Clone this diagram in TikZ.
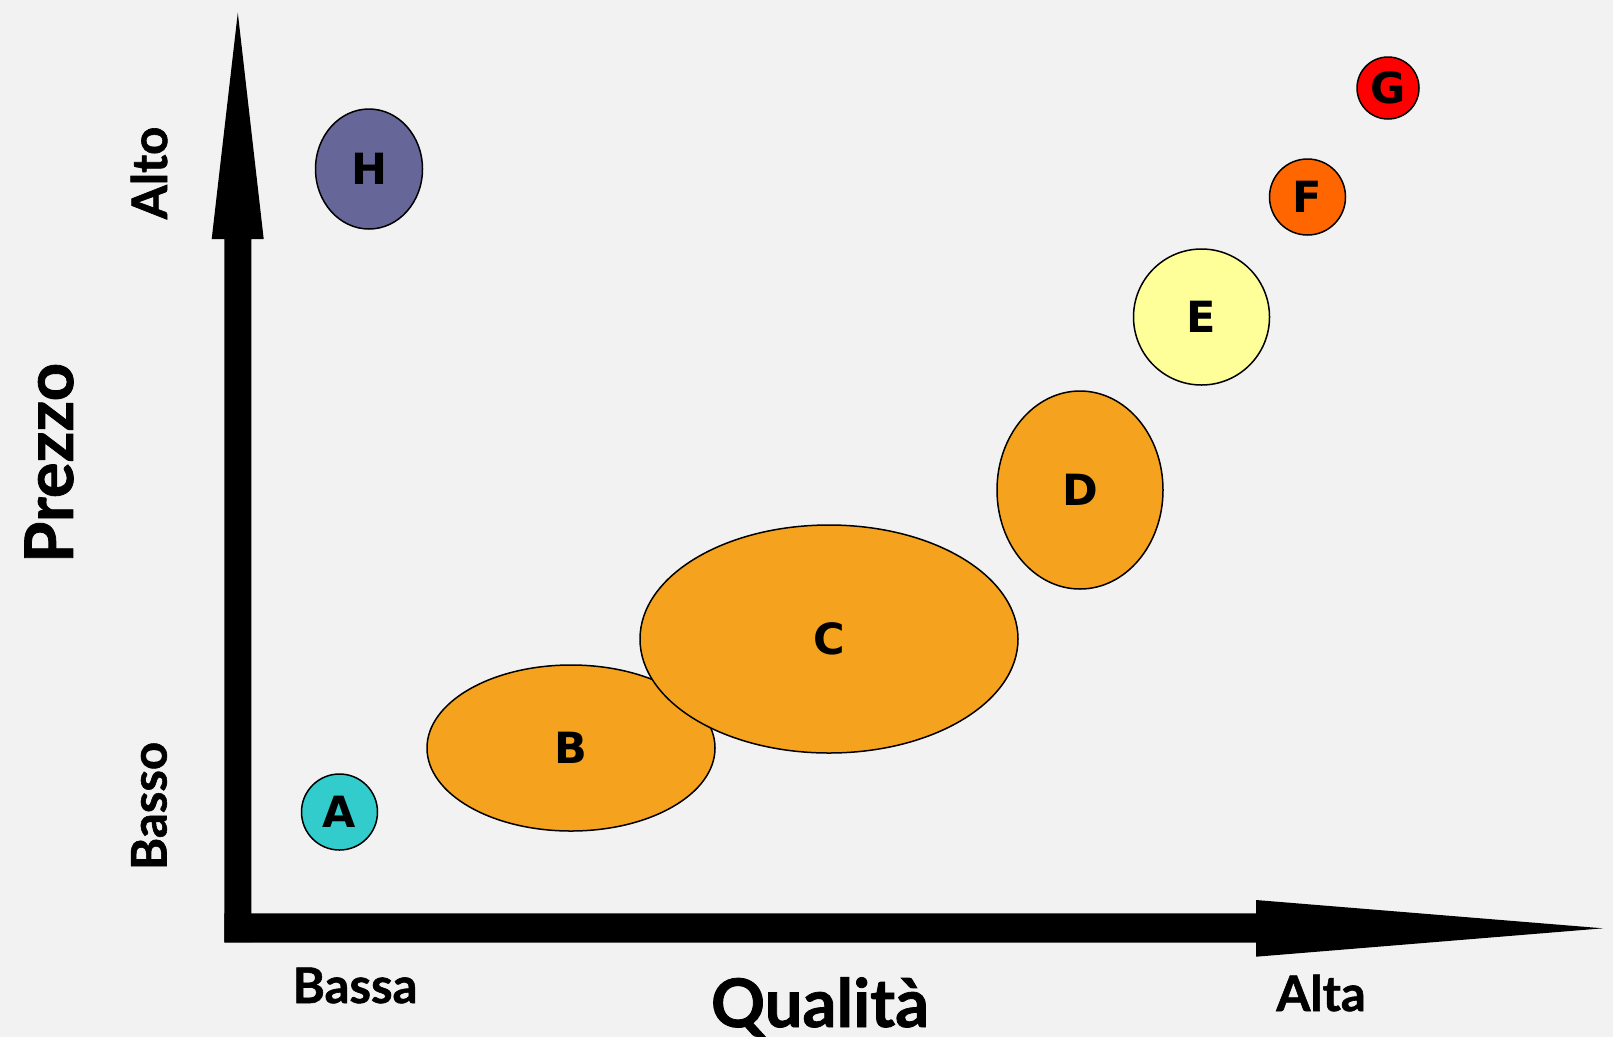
\documentclass[tikz,border=0pt]{standalone}
\usepackage{fontspec}
\setmainfont{Lato}[BoldFeatures={FakeBold=1.2}]
\newfontfamily\letterfont{DejaVu Sans}
\usetikzlibrary{shapes.geometric}

\definecolor{bgcol}{HTML}{F2F2F2}
\definecolor{segA}{HTML}{33CCCC}
\definecolor{segmid}{HTML}{F5A31F}
\definecolor{segE}{HTML}{FFFF99}
\definecolor{segF}{HTML}{FF6600}
\definecolor{segG}{HTML}{FF0000}
\definecolor{segH}{HTML}{666699}

\begin{document}
\begin{tikzpicture}[x=1pt,y=-1pt,
  seg/.style={ellipse,draw=black,line width=1.5pt,inner sep=0pt,
    font=\letterfont\bfseries\fontsize{43}{43}\selectfont},
  biglabel/.style={font=\bfseries\fontsize{67}{67}\selectfont},
  endlabel/.style={font=\bfseries\fontsize{49}{49}\selectfont}]
% Background
\fill[bgcol] (0,0) rectangle (1613,1037);
\useasboundingbox (0,0) rectangle (1613,1037);

% Axes
\coordinate (ytip) at (237.8,12.7);
\coordinate (xtip) at (1603,928.3);
\fill[black] (224.3,942) -- (224.3,239) -- (211.7,239) -- (ytip)
  -- (263.7,239) -- (251.3,239) -- (251.3,942) -- cycle;
\fill[black] (224.3,913.3) -- (1256,913.3) -- (1256,900) -- (xtip)
  -- (1256,956.7) -- (1256,942.7) -- (224.3,942.7) -- cycle;

% Axis labels
\node[biglabel,rotate=90] (prezzo) at (49,463) {Prezzo};
\node[endlabel,rotate=90] (alto) at (149,173) {Alto};
\node[endlabel,rotate=90] (basso) at (149,806) {Basso};
\node[endlabel,anchor=base] (bassa) at (355,1003) {Bassa};
\node[biglabel,anchor=base] (qualita) at (820,1027) {Qualità};
\node[endlabel,anchor=base] (alta) at (1321,1011) {Alta};

% Segments
\node[seg,fill=segH,minimum width=107pt,minimum height=120pt] (H) at (369,169) {H};
\node[seg,fill=segA,minimum width=76pt,minimum height=76pt] (A) at (339.5,812) {A};
\node[seg,fill=segmid,minimum width=288pt,minimum height=166pt] (B) at (571,748) {B};
\node[seg,fill=segmid,minimum width=378pt,minimum height=228pt] (C) at (829,639) {C};
\node[seg,fill=segmid,minimum width=166pt,minimum height=198pt] (D) at (1080,490) {D};
\node[seg,fill=segE,minimum width=136pt,minimum height=136pt] (E) at (1201.5,317) {E};
\node[seg,fill=segF,minimum width=76pt,minimum height=76pt] (F) at (1307.5,197) {F};
\node[seg,fill=segG,minimum width=62pt,minimum height=62pt] (G) at (1388,88) {G};
\end{tikzpicture}
\end{document}
